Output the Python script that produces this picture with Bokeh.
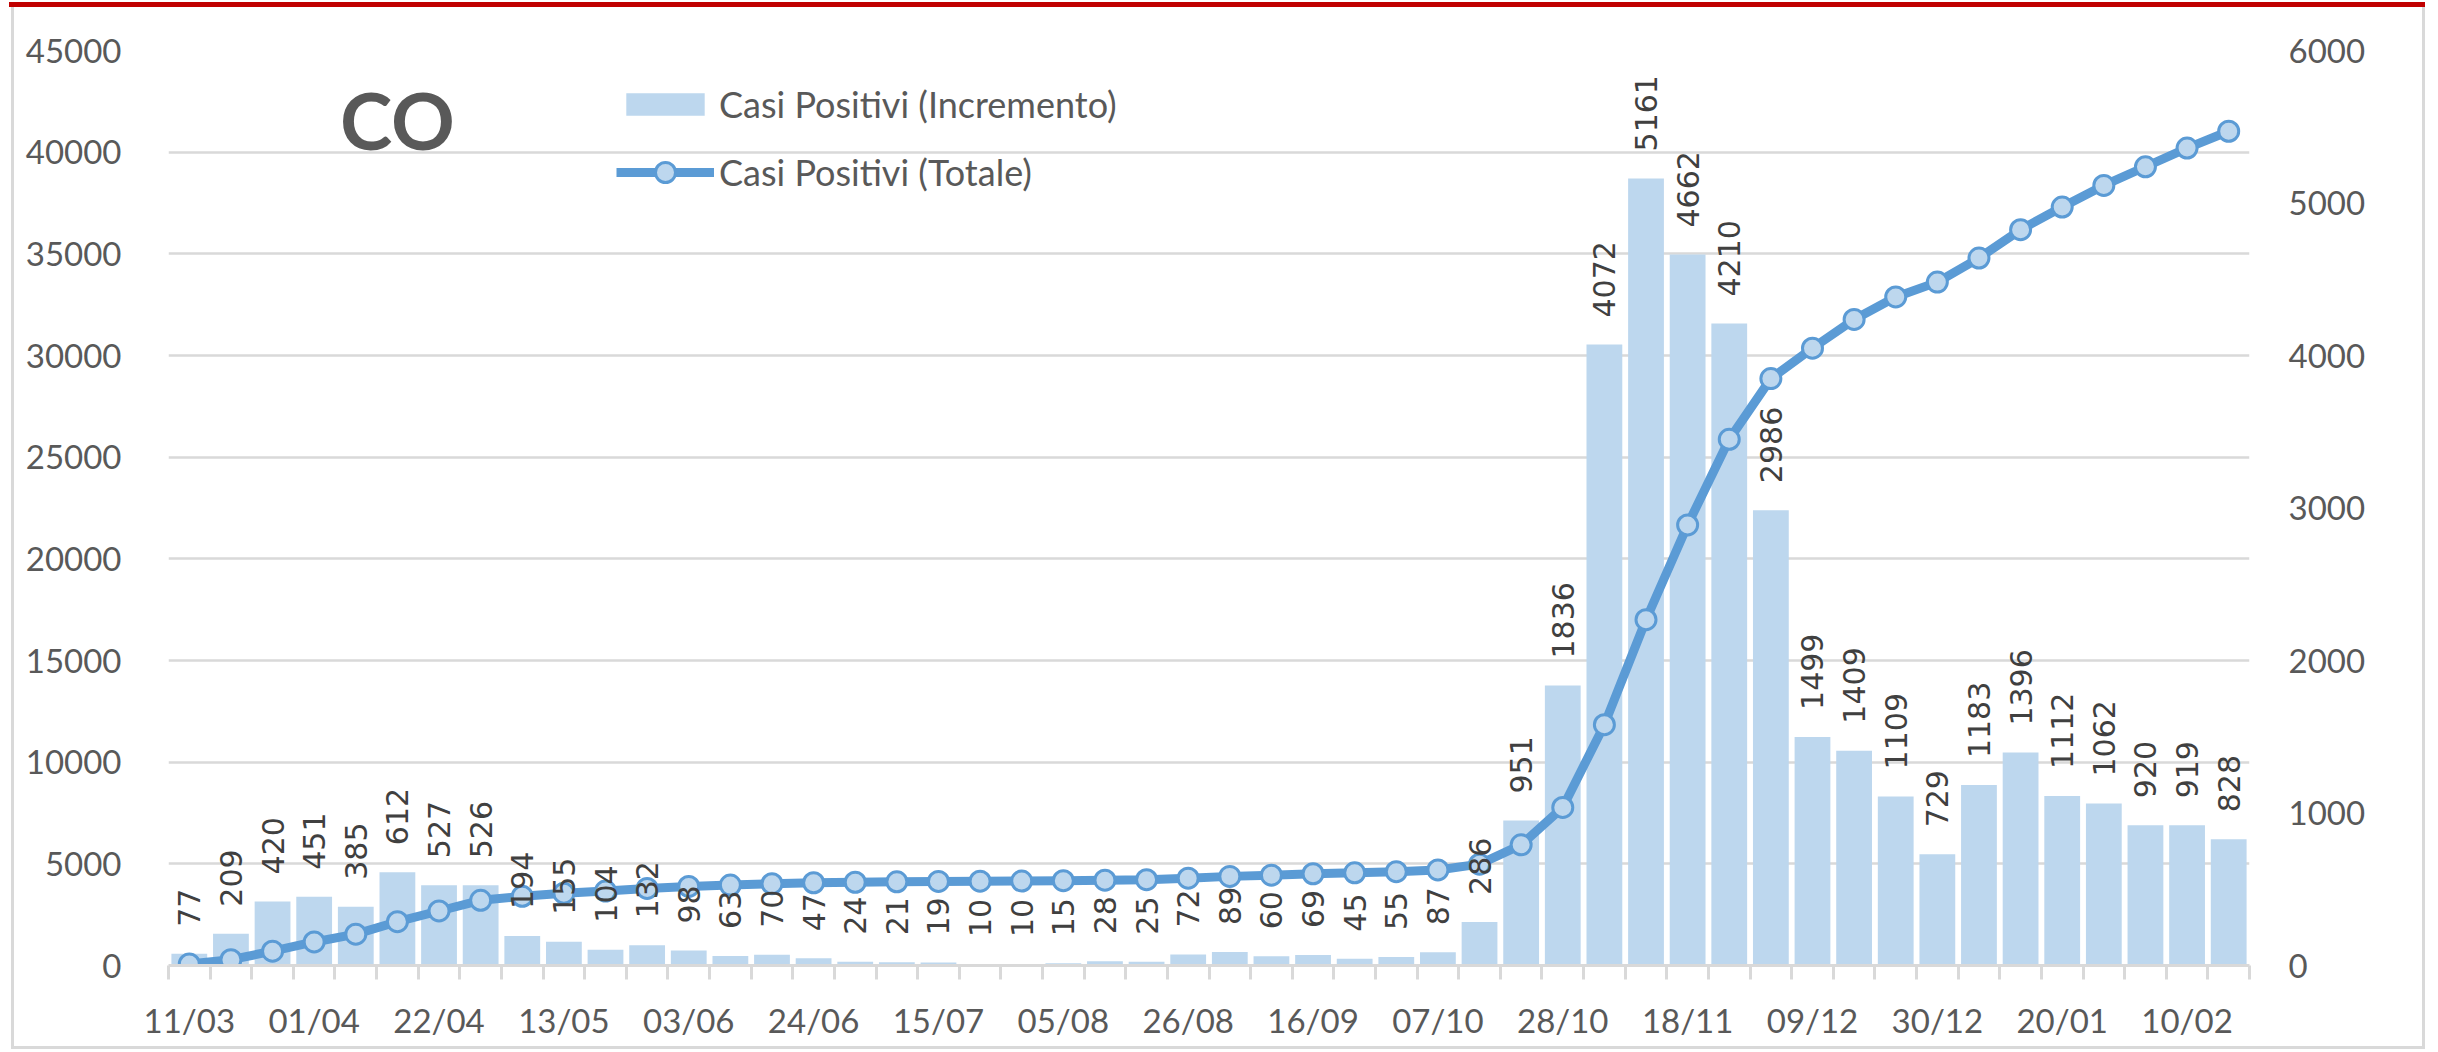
import math
from bokeh.plotting import figure
from bokeh.models import (Range1d, LinearAxis, FixedTicker, Legend, LegendItem,
                          Label, ColumnDataSource)
from bokeh.embed import file_html
from bokeh.resources import INLINE
from bokeh.core.properties import value

# ---- data ----
dates = ["11/03", "18/03", "25/03", "01/04", "08/04", "15/04", "22/04", "29/04",
         "06/05", "13/05", "20/05", "27/05", "03/06", "10/06", "17/06", "24/06",
         "01/07", "08/07", "15/07", "22/07", "29/07", "05/08", "12/08", "19/08",
         "26/08", "02/09", "09/09", "16/09", "23/09", "30/09", "07/10", "14/10",
         "21/10", "28/10", "04/11", "11/11", "18/11", "25/11", "02/12", "09/12",
         "16/12", "23/12", "30/12", "06/01", "13/01", "20/01", "27/01", "03/02",
         "10/02", "17/02"]

increments = [77, 209, 420, 451, 385, 612, 527, 526, 194, 155, 104, 132, 98, 63,
              70, 47, 24, 21, 19, 10, 10, 15, 28, 25, 72, 89, 60, 69, 45, 55, 87,
              286, 951, 1836, 4072, 5161, 4662, 4210, 2986, 1499, 1409, 1109, 729,
              1183, 1396, 1112, 1062, 920, 919, 828]

totals = [77, 286, 706, 1157, 1542, 2154, 2681, 3207, 3401, 3556, 3660, 3792,
          3890, 3953, 4023, 4070, 4094, 4115, 4134, 4144, 4154, 4169, 4197, 4222,
          4294, 4383, 4443, 4512, 4557, 4612, 4699, 4985, 5936, 7772, 11844, 17005,
          21667, 25877, 28863, 30362, 31771, 32880, 33609, 34792, 36188, 37300,
          38362, 39282, 40201, 41029]

left_ticks = [0, 5000, 10000, 15000, 20000, 25000, 30000, 35000, 40000, 45000]
right_ticks = [0, 1000, 2000, 3000, 4000, 5000, 6000]
title_text = "CO"
label_inc = "Casi Positivi (Incremento)"
label_tot = "Casi Positivi (Totale)"

# ---- styling ----
TXT = "#595959"
GRID = "#d9d9d9"
BAR = "#BDD7EE"
LINE = "#5B9BD5"
FONT = "Lato"
W, H = 2432, 1050

n = len(dates)
xs = list(range(n))
src = ColumnDataSource(dict(x=xs, inc=increments, tot=totals,
                            lab=[str(v) for v in increments]))

p = figure(width=W, height=H, output_backend="svg", toolbar_location=None,
           x_range=Range1d(-0.5, n - 0.5), y_range=Range1d(0, 45000),
           min_border_left=168, min_border_right=W - 2249, min_border_top=50,
           min_border_bottom=H - 965)
p.extra_y_ranges = {"inc": Range1d(0, 6000)}
p.outline_line_color = None
p.background_fill_color = "white"
p.border_fill_color = None
# chart frame: red top edge, light grey sides/bottom
p.styles = {
    "background-color": "white",
    "background-image": ", ".join(["linear-gradient(#c00000, #c00000)",
                                   "linear-gradient(#d9d9d9, #d9d9d9)",
                                   "linear-gradient(#d9d9d9, #d9d9d9)",
                                   "linear-gradient(#d9d9d9, #d9d9d9)"]),
    "background-position": "9px 2px, 11px 7px, 2422px 7px, 11px 1046px",
    "background-size": "2416px 5px, 3px 1042px, 3px 1042px, 2414px 3px",
    "background-repeat": "no-repeat",
}

# x axis
xa = p.xaxis[0]
xa.ticker = FixedTicker(ticks=list(range(0, n, 3)),
                        minor_ticks=[i - 0.5 for i in range(n + 1)])
xa.major_label_overrides = {i: dates[i] for i in range(0, n, 3)}
xa.major_tick_out = 0
xa.major_tick_in = 0
xa.minor_tick_out = 14
xa.minor_tick_in = 0
xa.minor_tick_line_color = GRID
xa.minor_tick_line_width = 3
xa.axis_line_color = GRID
xa.axis_line_width = 3
xa.major_label_standoff = 20
xa.major_label_text_font = FONT
xa.major_label_text_font_size = "33px"
xa.major_label_text_color = TXT
p.xgrid.visible = False

# left axis
ya = p.yaxis[0]
ya.ticker = FixedTicker(ticks=left_ticks)
ya.axis_line_color = None
ya.major_tick_line_color = None
ya.minor_tick_line_color = None
ya.major_label_standoff = 41
ya.major_label_text_font = FONT
ya.major_label_text_font_size = "33px"
ya.major_label_text_color = TXT
p.ygrid.ticker = FixedTicker(ticks=left_ticks)
p.ygrid.grid_line_color = GRID
p.ygrid.grid_line_width = 2.5

# right axis
ra = LinearAxis(y_range_name="inc", ticker=FixedTicker(ticks=right_ticks))
ra.axis_line_color = None
ra.major_tick_line_color = None
ra.minor_tick_line_color = None
ra.major_label_standoff = 33
ra.major_label_text_font = FONT
ra.major_label_text_font_size = "33px"
ra.major_label_text_color = TXT
p.add_layout(ra, "right")

# glyphs
bars = p.vbar(x="x", top="inc", width=0.86, source=src, y_range_name="inc",
              fill_color=BAR, line_color=None)
ln = p.line(x="x", y="tot", source=src, line_color=LINE, line_width=9,
            line_join="round")
pts = p.scatter(x="x", y="tot", source=src, size=20, fill_color=BAR,
                line_color=LINE, line_width=3)
p.text(x="x", y="inc", text="lab", source=src, y_range_name="inc",
       angle=math.pi / 2, text_align="left", text_baseline="middle",
       y_offset=-27, text_font=value("DejaVu Sans"), text_font_size="30px",
       text_color="#404040")

# title inside plot
p.add_layout(Label(x=5.0, y=41600, text=title_text, text_font=FONT,
                   text_font_size="79px", text_font_style="bold",
                   text_color=TXT, text_align="center", text_baseline="middle"))

# legends (two, so the bar patch and the line marker get their own sizes)
common = dict(orientation="vertical", glyph_width=98, label_standoff=5,
              padding=0, margin=0, border_line_alpha=0, background_fill_alpha=0,
              label_text_font=FONT, label_text_font_size="36px",
              label_text_color=TXT)
leg1 = Legend(items=[LegendItem(label=label_inc, renderers=[bars])],
              location=(448, 839), glyph_height=28, **common)
leg2 = Legend(items=[LegendItem(label=label_tot, renderers=[ln, pts])],
              location=(448, 768), glyph_height=50, **common)
p.add_layout(leg1, "center")
p.add_layout(leg2, "center")

open("out.html", "w").write(file_html(p, INLINE))
